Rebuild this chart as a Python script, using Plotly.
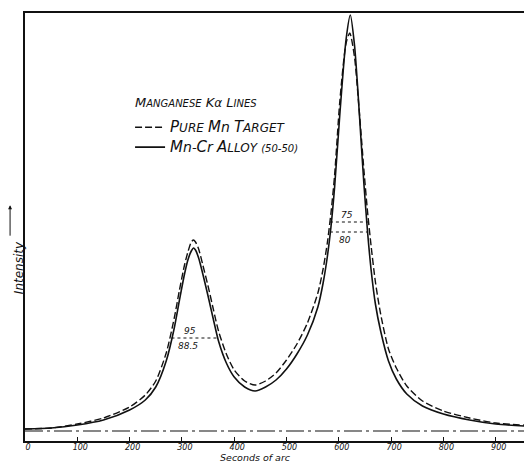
import plotly.graph_objects as go

# Mn-Cr alloy (50-50), solid curve
alloy_x = [0, 50, 100, 150, 200, 230, 250, 270, 285, 295, 305, 312, 318, 322, 326, 332, 340, 350, 360, 370,
           385, 400, 420, 440, 460, 480, 500, 520, 540, 560, 570, 578, 585, 592, 602, 614, 622, 630, 636, 642,
           648, 655, 662, 670, 680, 695, 710, 730, 760, 800, 850, 900, 985]
alloy_y = [2, 3, 6, 11, 21, 31, 44, 70, 102, 130, 157, 172, 180, 183, 181, 173, 157, 135, 112, 90,
           68, 54, 44, 40, 44, 51, 62, 77, 96, 124, 148, 174, 204, 244, 317, 392, 416, 386, 344, 295,
           247, 199, 160, 127, 100, 70, 52, 37, 25, 17, 11, 7, 4]

# Pure Mn target, dashed curve
pure_x = [0, 50, 100, 150, 200, 230, 250, 270, 285, 295, 305, 312, 318, 322, 326, 332, 340, 350, 360, 370,
          385, 400, 420, 440, 460, 480, 500, 520, 540, 560, 570, 578, 585, 592, 602, 614, 621, 630, 636, 642,
          648, 655, 662, 670, 680, 695, 710, 730, 760, 800, 850, 900, 985]
pure_y = [2, 3, 7, 13, 24, 36, 50, 78, 112, 140, 166, 180, 189, 191, 189, 182, 166, 145, 122, 100,
          77, 61, 50, 46, 50, 58, 71, 87, 108, 138, 162, 188, 218, 256, 330, 388, 398, 374, 340, 301,
          261, 219, 184, 149, 117, 82, 63, 45, 30, 20, 13, 8, 5]

baseline_x = [0, 985]
baseline_y = [0, 0]

# half-width markers
hw_x0 = [583, 583, 280]
hw_x1 = [656, 656, 367]
hw_level = [209, 199, 93]
hw_labels = ["75", "80", "95", "88.5"]
hw_label_x = [616, 612, 316, 312]
hw_label_y = [216, 191, 100, 85]

x_ticks = [0, 100, 200, 300, 400, 500, 600, 700, 800, 900]

FONT = "DejaVu Sans"
INK = "#111111"


def sc(big, small, bs=15, ss=12):
    return f"<span style='font-size:{bs}px'>{big}</span><span style='font-size:{ss}px'>{small}</span>"


fig = go.Figure()

fig.add_trace(go.Scatter(
    x=pure_x, y=pure_y, mode="lines",
    line=dict(color=INK, width=1.4, dash="7px,3px", shape="spline", smoothing=0.7),
    name=sc("P", "URE") + " " + sc("M", "n", 15, 14) + " " + sc("T", "ARGET"),
))
fig.add_trace(go.Scatter(
    x=alloy_x, y=alloy_y, mode="lines",
    line=dict(color=INK, width=1.6, shape="spline", smoothing=0.7),
    name=sc("M", "n", 15, 14) + "-" + sc("C", "r", 15, 14) + " " + sc("A", "LLOY")
         + " <span style='font-size:10px'>(50-50)</span>",
))
fig.add_trace(go.Scatter(
    x=baseline_x, y=baseline_y, mode="lines",
    line=dict(color=INK, width=1.2, dash="18px,4px,3px,4px"),
    showlegend=False, hoverinfo="skip",
))
for x0, x1, lv in zip(hw_x0, hw_x1, hw_level):
    fig.add_trace(go.Scatter(
        x=[x0, x1], y=[lv, lv], mode="lines",
        line=dict(color=INK, width=1, dash="dot"),
        showlegend=False, hoverinfo="skip",
    ))
for t, lx, ly in zip(hw_labels, hw_label_x, hw_label_y):
    fig.add_annotation(x=lx, y=ly, text=t, showarrow=False,
                       font=dict(family=FONT, size=9, color=INK, style="italic"))

fig.update_layout(
    width=532, height=464,
    margin=dict(l=17, r=0, t=5, b=31, autoexpand=False),
    paper_bgcolor="white", plot_bgcolor="white",
    showlegend=True,
    legend=dict(
        x=0.204, y=0.768, xanchor="left", yanchor="top",
        bgcolor="rgba(0,0,0,0)",
        font=dict(family=FONT, size=13, color=INK, style="italic"),
        itemwidth=30,
        tracegroupgap=2,
    ),
    xaxis=dict(
        range=[0, 984.7], showgrid=False, zeroline=False, automargin=False,
        showline=True, linecolor=INK, linewidth=1.5, mirror=True,
        ticks="inside", ticklen=4, tickcolor=INK, tickwidth=1,
        tickvals=x_ticks, ticktext=[str(v) for v in x_ticks],
        tickfont=dict(family=FONT, size=8, color=INK, style="italic"),
        ticklabelstandoff=-2, ticklabelshift=3,
    ),
    yaxis=dict(
        range=[-10, 418], showgrid=False, zeroline=False, automargin=False,
        showline=True, linecolor=INK, linewidth=1.5,
        showticklabels=False, ticks="",
    ),
)

fig.add_annotation(xref="paper", yref="paper", x=0.2097, y=0.792, xanchor="left", yanchor="middle",
                   text=sc("M", "ANGANESE", 13, 10) + " " + sc("K", "α", 13, 12) + " " + sc("L", "INES", 13, 10),
                   showarrow=False, font=dict(family=FONT, size=13, color=INK, style="italic"))
fig.add_annotation(xref="paper", yref="paper", x=0.447, y=-0.0535, yanchor="bottom", borderpad=0,
                   text="Seconds of arc", showarrow=False,
                   font=dict(family=FONT, size=9.5, color=INK, style="italic"))
fig.add_annotation(xref="paper", yref="paper", x=-0.029, y=0.404, textangle=-90,
                   text="Intensity", showarrow=False,
                   font=dict(family=FONT, size=12, color=INK, style="italic"))
fig.add_annotation(xref="paper", yref="paper", x=-0.029, y=0.551, ax=0, ay=32,
                   text="", showarrow=True, arrowhead=2, arrowsize=0.8, arrowwidth=1, arrowcolor=INK)

fig.write_html("out.html")
